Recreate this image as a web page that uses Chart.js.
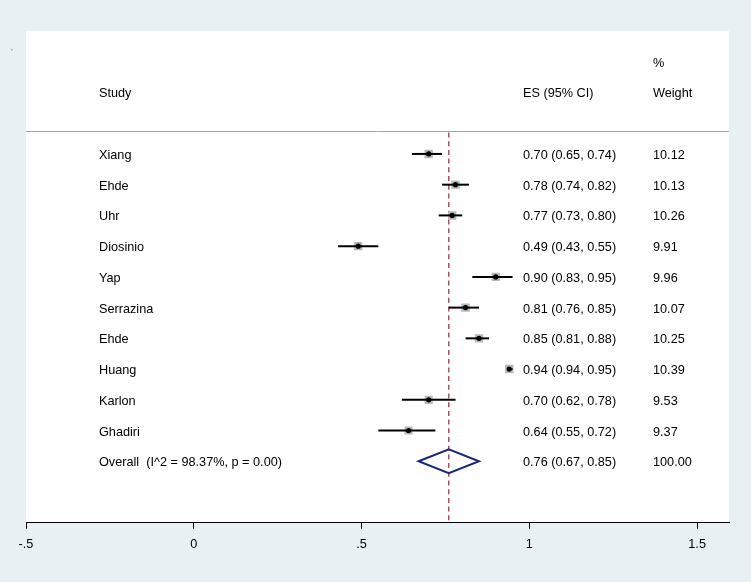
<!DOCTYPE html>
<html>
<head>
<meta charset="utf-8">
<script src="https://cdn.jsdelivr.net/npm/chart.js@4.4.1/dist/chart.umd.min.js"></script>
<style>
  html, body { margin: 0; padding: 0; background: #e8f0f3; }
  #wrap { width: 751px; height: 582px; }
</style>
</head>
<body>
<div id="wrap"><canvas id="forest" width="751" height="582"></canvas></div>
<script>
// study rows, top to bottom (last one is the pooled estimate)
const studies = ['Xiang', 'Ehde', 'Uhr', 'Diosinio', 'Yap', 'Serrazina', 'Ehde', 'Huang', 'Karlon', 'Ghadiri',
  'Overall  (I^2 = 98.37%, p = 0.00)'];
const estimates = [0.70, 0.78, 0.77, 0.49, 0.90, 0.81, 0.85, 0.94, 0.70, 0.64, 0.76];
const lower = [0.65, 0.74, 0.73, 0.43, 0.83, 0.76, 0.81, 0.94, 0.62, 0.55, 0.67];
const upper = [0.74, 0.82, 0.80, 0.55, 0.95, 0.85, 0.88, 0.95, 0.78, 0.72, 0.85];
const weights = [10.12, 10.13, 10.26, 9.91, 9.96, 10.07, 10.25, 10.39, 9.53, 9.37, 100.00];

const tickValues = [-0.5, 0, 0.5, 1, 1.5];
const tickLabels = ['-.5', '0', '.5', '1', '1.5'];

const nStudies = studies.length - 1;
const overall = nStudies;

const FONT = '12.7px "Liberation Sans", Arial, sans-serif';

const studyPoints = [];
for (let i = 0; i < nStudies; i++) studyPoints.push({ x: estimates[i], y: i });
const boxRadius = weights.slice(0, nStudies).map(w => 6 * Math.sqrt(w / 10.39));

const forestPlugin = {
  id: 'forest',
  beforeDraw(chart) {
    const { ctx, chartArea } = chart;
    ctx.save();
    ctx.fillStyle = '#e8f0f3';
    ctx.fillRect(0, 0, chart.width, chart.height);
    ctx.fillStyle = '#ffffff';
    ctx.fillRect(chartArea.left, chartArea.top, chartArea.right - chartArea.left, chartArea.bottom - chartArea.top);
    ctx.fillStyle = '#9aa0a4';
    ctx.fillRect(11, 49, 1.5, 1.5);
    ctx.restore();
  },
  beforeDatasetsDraw(chart) {
    const { ctx, chartArea, scales: { x, y } } = chart;
    ctx.save();
    // header rule
    ctx.strokeStyle = '#a6a6a6';
    ctx.lineWidth = 1;
    const hy = Math.round(y.getPixelForValue(-0.75)) + 0.5;
    ctx.beginPath();
    ctx.moveTo(chartArea.left, hy);
    ctx.lineTo(chartArea.right, hy);
    ctx.stroke();
    // reference line at the pooled estimate
    const px = x.getPixelForValue(estimates[overall]);
    ctx.strokeStyle = '#8e2a3a';
    ctx.lineWidth = 1.2;
    ctx.setLineDash([5, 3.7]);
    ctx.beginPath();
    ctx.moveTo(px, hy + 1);
    ctx.lineTo(px, chartArea.bottom);
    ctx.stroke();
    ctx.restore();
  },
  afterDatasetDraw(chart, args) {
    if (chart.data.datasets[args.index].label !== 'weight') return;
    const { ctx, scales: { x, y } } = chart;
    ctx.save();
    // confidence intervals
    ctx.strokeStyle = '#000';
    ctx.lineWidth = 2;
    for (let i = 0; i < nStudies; i++) {
      const yy = y.getPixelForValue(i);
      ctx.beginPath();
      ctx.moveTo(x.getPixelForValue(lower[i]), yy);
      ctx.lineTo(x.getPixelForValue(upper[i]), yy);
      ctx.stroke();
    }
    // pooled diamond
    const yo = y.getPixelForValue(overall);
    const h = y.getPixelForValue(overall + 0.39) - yo;
    ctx.strokeStyle = '#1b2878';
    ctx.lineWidth = 2;
    ctx.lineJoin = 'miter';
    ctx.beginPath();
    ctx.moveTo(x.getPixelForValue(lower[overall]), yo);
    ctx.lineTo(x.getPixelForValue(estimates[overall]), yo - h);
    ctx.lineTo(x.getPixelForValue(upper[overall]), yo);
    ctx.lineTo(x.getPixelForValue(estimates[overall]), yo + h);
    ctx.closePath();
    ctx.stroke();
    ctx.restore();
  },
  afterDraw(chart) {
    const { ctx, scales: { y } } = chart;
    ctx.save();
    ctx.font = FONT;
    ctx.fillStyle = '#000';
    ctx.textBaseline = 'middle';
    ctx.textAlign = 'left';
    const colStudy = 99, colEs = 523, colW = 653, dy = 1.5;
    ctx.fillText('%', colW, y.getPixelForValue(-3) + dy);
    ctx.fillText('Study', colStudy, y.getPixelForValue(-2) + dy);
    ctx.fillText('ES (95% CI)', colEs, y.getPixelForValue(-2) + dy);
    ctx.fillText('Weight', colW, y.getPixelForValue(-2) + dy);
    for (let i = 0; i < studies.length; i++) {
      const yy = y.getPixelForValue(i) + dy;
      ctx.fillText(studies[i], colStudy, yy);
      ctx.fillText(estimates[i].toFixed(2) + ' (' + lower[i].toFixed(2) + ', ' + upper[i].toFixed(2) + ')', colEs, yy);
      ctx.fillText(weights[i].toFixed(2), colW, yy);
    }
    ctx.restore();
  }
};

new Chart(document.getElementById('forest'), {
  type: 'scatter',
  data: {
    datasets: [
      {
        label: 'estimate',
        data: studyPoints,
        order: 1,
        pointStyle: 'circle',
        pointRadius: 2.6,
        backgroundColor: '#000',
        borderColor: '#000',
        borderWidth: 0
      },
      {
        label: 'weight',
        data: studyPoints,
        order: 2,
        pointStyle: 'rect',
        pointRadius: boxRadius,
        backgroundColor: '#b9b9b9',
        borderColor: '#b9b9b9',
        borderWidth: 0
      }
    ]
  },
  options: {
    responsive: false,
    animation: false,
    events: [],
    layout: { padding: { left: 26, right: 22, top: 31, bottom: 22 } },
    scales: {
      x: {
        type: 'linear',
        min: -0.5,
        max: 1.595,
        afterBuildTicks(scale) {
          scale.ticks = tickValues.map(v => ({ value: v }));
        },
        border: { display: true, color: '#000', width: 1 },
        grid: { drawOnChartArea: false, drawTicks: true, tickLength: 6, color: '#000', lineWidth: 1 },
        ticks: {
          padding: 8,
          color: '#000',
          font: { family: '"Liberation Sans", Arial, sans-serif', size: 12.7 },
          maxRotation: 0,
          callback: (v) => tickLabels[tickValues.indexOf(v)] ?? ''
        }
      },
      y: {
        type: 'linear',
        display: false,
        reverse: true,
        min: -4,
        max: 12
      }
    },
    plugins: {
      legend: { display: false },
      tooltip: { enabled: false }
    }
  },
  plugins: [forestPlugin]
});
</script>
</body>
</html>
